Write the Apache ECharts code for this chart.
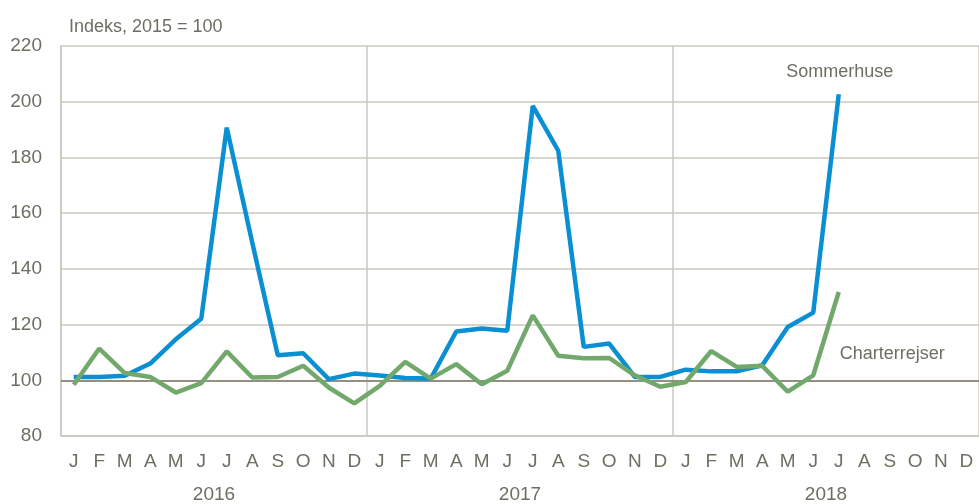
<!DOCTYPE html>
<html>
<head>
<meta charset="utf-8">
<script src="https://cdn.jsdelivr.net/npm/echarts@6/dist/echarts.min.js"></script>
<style>
  html, body { margin: 0; padding: 0; background: #fff; }
  #main { width: 979px; height: 504px; }
</style>
</head>
<body>
<div id="main"></div>
<script>
// måneder / år
var months = ['J','F','M','A','M','J','J','A','S','O','N','D'];
var years = ['2016', '2017', '2018'];
var yTicks = [80, 100, 120, 140, 160, 180, 200, 220];

// Indeks, 2015 = 100 (jan 2016 - jul 2018)
var sommerhuse = [
  101.2, 101.2, 101.6, 106.0, 114.7, 122.1, 190.7, 149.5, 109.0, 109.7, 100.4, 102.4,
  101.7, 100.8, 100.6, 117.5, 118.6, 117.8, 198.5, 182.4, 112.0, 113.2, 101.2, 101.2,
  103.8, 103.2, 103.2, 105.4, 119.1, 124.3, 202.7
];
var charterrejser = [
  98.4, 111.4, 102.6, 101.2, 95.6, 99.0, 110.4, 101.0, 101.2, 105.2, 97.4, 91.7,
  98.0, 106.6, 100.6, 105.8, 98.6, 103.4, 123.3, 108.8, 107.9, 108.0, 101.8, 97.7,
  99.4, 110.5, 104.8, 105.2, 95.9, 101.8, 131.7
];

var categories = [];
for (var y = 0; y < years.length; y++) {
    for (var m = 0; m < months.length; m++) {
        categories.push(months[m]);
    }
}

var font = "'Liberation Sans', Arial, sans-serif";
var textColor = '#6e6e62';
var gridColor = '#c9c9bf';

var myChart = echarts.init(document.getElementById('main'));

var option = {
    animation: false,
    textStyle: { fontFamily: font },
    grid: { left: 61, right: 0, top: 46, bottom: 67 },
    title: {
        text: 'Indeks, 2015 = 100',
        left: 64,
        top: 13,
        textStyle: { fontFamily: font, fontSize: 18, fontWeight: 'normal', color: textColor }
    },
    xAxis: [
        {
            type: 'category',
            data: categories,
            boundaryGap: true,
            axisLine: { show: true, lineStyle: { color: gridColor, width: 1.5 } },
            axisTick: { show: false },
            axisLabel: { interval: 0, margin: 16, fontSize: 19, color: textColor, fontFamily: font },
            splitLine: { show: false }
        },
        {
            type: 'category',
            data: years,
            position: 'bottom',
            boundaryGap: true,
            axisLine: { show: false },
            axisTick: { show: false },
            axisLabel: { interval: 0, margin: 49, fontSize: 19, color: textColor, fontFamily: font },
            splitLine: { show: true, interval: 0, lineStyle: { color: gridColor, width: 1.5 } }
        }
    ],
    yAxis: {
        type: 'value',
        min: yTicks[0],
        max: yTicks[yTicks.length - 1],
        interval: 20,
        axisLine: { show: true, lineStyle: { color: gridColor, width: 1.5 } },
        axisTick: { show: false },
        axisLabel: { margin: 19, fontSize: 19, color: textColor, fontFamily: font },
        splitLine: { lineStyle: { color: gridColor, width: 1.5 } }
    },
    series: [
        {
            name: 'Sommerhuse',
            type: 'line',
            data: sommerhuse,
            showSymbol: false,
            symbol: 'none',
            lineStyle: { color: '#0a8fd3', width: 4.5 },
            itemStyle: { color: '#0a8fd3' },
            endLabel: {
                show: true,
                formatter: '{a}',
                fontSize: 18,
                color: textColor,
                fontFamily: font,
                align: 'center',
                verticalAlign: 'middle',
                offset: [-7, -22]
            },
            markLine: {
                silent: true,
                symbol: 'none',
                label: { show: false },
                lineStyle: { color: '#7c7768', type: 'solid', width: 1.5 },
                data: [{ yAxis: 100 }],
                z: 1
            },
            z: 3
        },
        {
            name: 'Charterrejser',
            type: 'line',
            data: charterrejser,
            showSymbol: false,
            symbol: 'none',
            lineStyle: { color: '#72a86c', width: 4.5 },
            itemStyle: { color: '#72a86c' },
            endLabel: {
                show: true,
                formatter: '{a}',
                fontSize: 18,
                color: textColor,
                fontFamily: font,
                align: 'left',
                verticalAlign: 'middle',
                offset: [-7, 62]
            },
            z: 4
        }
    ]
};

myChart.setOption(option);
</script>
</body>
</html>
